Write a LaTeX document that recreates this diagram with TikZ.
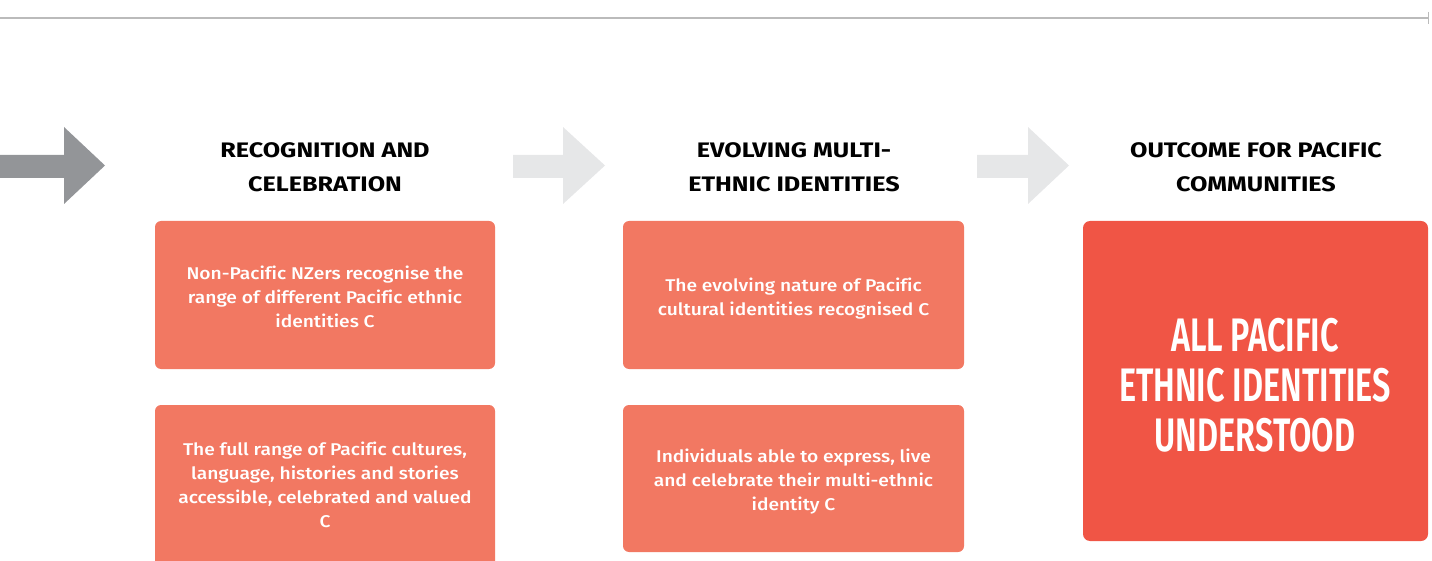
\documentclass[tikz,border=0pt]{standalone}
\usepackage{fontspec}
\setmainfont{Fira Sans}
\newfontfamily\headfont[FakeStretch=1.2,Ligatures=NoCommon]{Fira Sans Bold}
\newfontfamily\medfont[FakeStretch=1.13,Ligatures=NoCommon]{Fira Sans Medium}
\newfontfamily\bigfont[FakeStretch=0.69]{Fira Sans SemiBold}
\definecolor{topline}{HTML}{BBBBBB}
\definecolor{darkarrow}{HTML}{939598}
\definecolor{lightarrow}{HTML}{E6E7E8}
\definecolor{salmon}{HTML}{F27862}
\definecolor{outred}{HTML}{F05545}
\tikzset{
  headtext/.style={font=\headfont\fontsize{21}{34}\selectfont, align=center, text=black},
  boxtext/.style={font=\medfont\fontsize{17}{24}\selectfont, align=center, text=white},
  bigtext/.style={font=\bigfont\fontsize{47}{50}\selectfont, align=center, text=white},
  smallbox/.style={fill=salmon, rounded corners=6pt},
  bigbox/.style={fill=outred, rounded corners=7pt},
}
\begin{document}
\begin{tikzpicture}[x=1pt,y=-1pt]
\useasboundingbox (0,0) rectangle (1432,561);
% top line
\coordinate (tl) at (0,18);
\coordinate (tr) at (1428,18);
\draw[topline, line width=2.5pt] (tl) -- (tr);
\draw[topline, line width=0.8pt] (1428,12) -- (1428,24);
% arrows
\fill[darkarrow] (0,155) -- (64,155) -- (64,127) -- (105,165.5) -- (64,204) -- (64,178) -- (0,178) -- cycle;
\fill[lightarrow] (513,155) -- (563,155) -- (563,127) -- (605,165.5) -- (563,204) -- (563,178) -- (513,178) -- cycle;
\fill[lightarrow] (977,155) -- (1028,155) -- (1028,127) -- (1069,165.5) -- (1028,204) -- (1028,178) -- (977,178) -- cycle;
% headings
\node[headtext] (h1) at (325,167) {RECOGNITION AND\\CELEBRATION};
\node[headtext] (h2) at (794,167) {EVOLVING MULTI-\\ETHNIC IDENTITIES};
\node[headtext] (h3) at (1256,167) {OUTCOME FOR PACIFIC\\COMMUNITIES};
% boxes
\path[smallbox] (155,221) rectangle (495,369);
\node[boxtext] (b1) at (325,297) {Non-Pacific NZers recognise the\\range of different Pacific ethnic\\identities C};
\path[smallbox] (155,405) rectangle (495,575);
\node[boxtext] (b2) at (325,485) {The full range of Pacific cultures,\\language, histories and stories\\accessible, celebrated and valued\\C};
\path[smallbox] (623,221) rectangle (964,369);
\node[boxtext] (b3) at (793.5,299) {The evolving nature of Pacific\\cultural identities recognised C};
\path[smallbox] (623,405) rectangle (964,552);
\node[boxtext] (b4) at (793.5,482) {Individuals able to express, live\\and celebrate their multi-ethnic\\identity C};
\path[bigbox] (1083,221) rectangle (1428,541);
\node[bigtext] (out) at (1255,385) {ALL PACIFIC\\ETHNIC IDENTITIES\\UNDERSTOOD};
\end{tikzpicture}
\end{document}
